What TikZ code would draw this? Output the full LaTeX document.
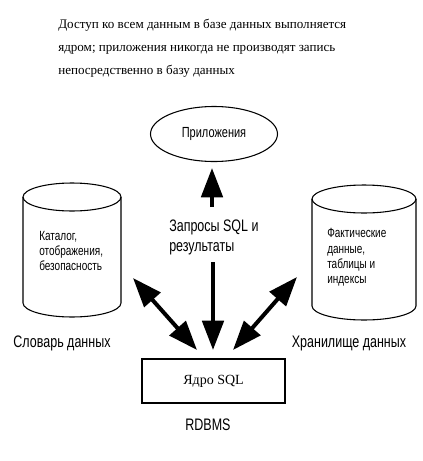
\documentclass[tikz,border=0pt]{standalone}
\usepackage{fontspec}
\setmainfont{Liberation Serif}
\newfontfamily\cadfont[FakeStretch=0.75]{Liberation Sans}
\usepackage{tikz}
\usetikzlibrary{%
  arrows.meta,% Triangle tips
  shapes.geometric,% ellipse
  positioning%
}
\tikzset{
  Label/.style = {font=\cadfont\fontsize{12.5}{14}\selectfont, inner sep=0pt},
  Small/.style = {font=\cadfont\fontsize{10}{11.4}\selectfont, inner sep=0pt, align=left},
  Rim/.style   = {line width=0.8pt},
  Flow/.style  = {line width=3pt, -{Triangle[length=22pt,width=16pt]}},
  Both/.style  = {line width=3pt, {Triangle[length=22pt,width=16pt]}-{Triangle[length=22pt,width=16pt]}}
}
\begin{document}
\begin{tikzpicture}[x=0.75pt,y=-0.75pt]
  \useasboundingbox (0,0) rectangle (422,461);
  % note on top
  \node[anchor=north west, align=left, inner sep=0pt,
        font=\fontsize{9.8}{17.2}\selectfont] (note) at (58,19)
    {Доступ ко всем данным в базе данных выполняется\\
     ядром; приложения никогда не производят запись\\
     непосредственно в базу данных};

  % "RDBMS" parts
  \node[draw, ellipse, minimum width=127*0.75pt, minimum height=55*0.75pt,
        Rim, font=\cadfont\fontsize{11}{12}\selectfont] (apps) at (214,134) {Приложения};
  \node[draw, minimum width=143*0.75pt, minimum height=44*0.75pt,
        Rim, font=\fontsize{10.5}{12}\selectfont] (kernel) at (213.5,381) {Ядро SQL};
  \node[Label] (rdbms) at (208,425) {RDBMS};

  % "data" stores
  \draw[Rim] (72,197) ellipse [x radius=49, y radius=14];
  \draw[Rim] (23,197) -- (23,303) arc[start angle=180, end angle=0, x radius=49, y radius=14] -- (121,197);
  \draw[Rim] (364,199) ellipse [x radius=52, y radius=14];
  \draw[Rim] (312,199) -- (312,306) arc[start angle=180, end angle=0, x radius=52, y radius=14] -- (416,199);
  \node[Small, anchor=base west] (dicttext) at (39,270.5)
    {Каталог,\\отображения,\\безопасность};
  \node[Small, anchor=base west] (storetext) at (327,283.5)
    {Фактические\\данные,\\таблицы и\\индексы};
  \node[Label, anchor=base] (dictlabel) at (62,347) {Словарь данных};
  \node[Label, anchor=base] (storelabel) at (349,347) {Хранилище данных};

  % "SQL" traffic
  \node[Label, anchor=base west, align=left, font=\cadfont\fontsize{12.5}{14.5}\selectfont]
    (query) at (169,251) {Запросы SQL  и\\результаты};
  \coordinate (upfrom) at (212,207);
  \coordinate (upto)   at (212,168);
  \coordinate (downfrom) at (213,262);
  \coordinate (downto)   at (213,350);
  \coordinate (leftend)  at (133,278);
  \coordinate (leftmid)  at (197,350);
  \coordinate (rightmid) at (233,350);
  \coordinate (rightend) at (297,277);
  \draw[Flow] (upfrom) -- (upto);
  \draw[Flow] (downfrom) -- (downto);
  \draw[Both] (leftend) -- (leftmid);
  \draw[Both] (rightmid) -- (rightend);
\end{tikzpicture}
\end{document}
